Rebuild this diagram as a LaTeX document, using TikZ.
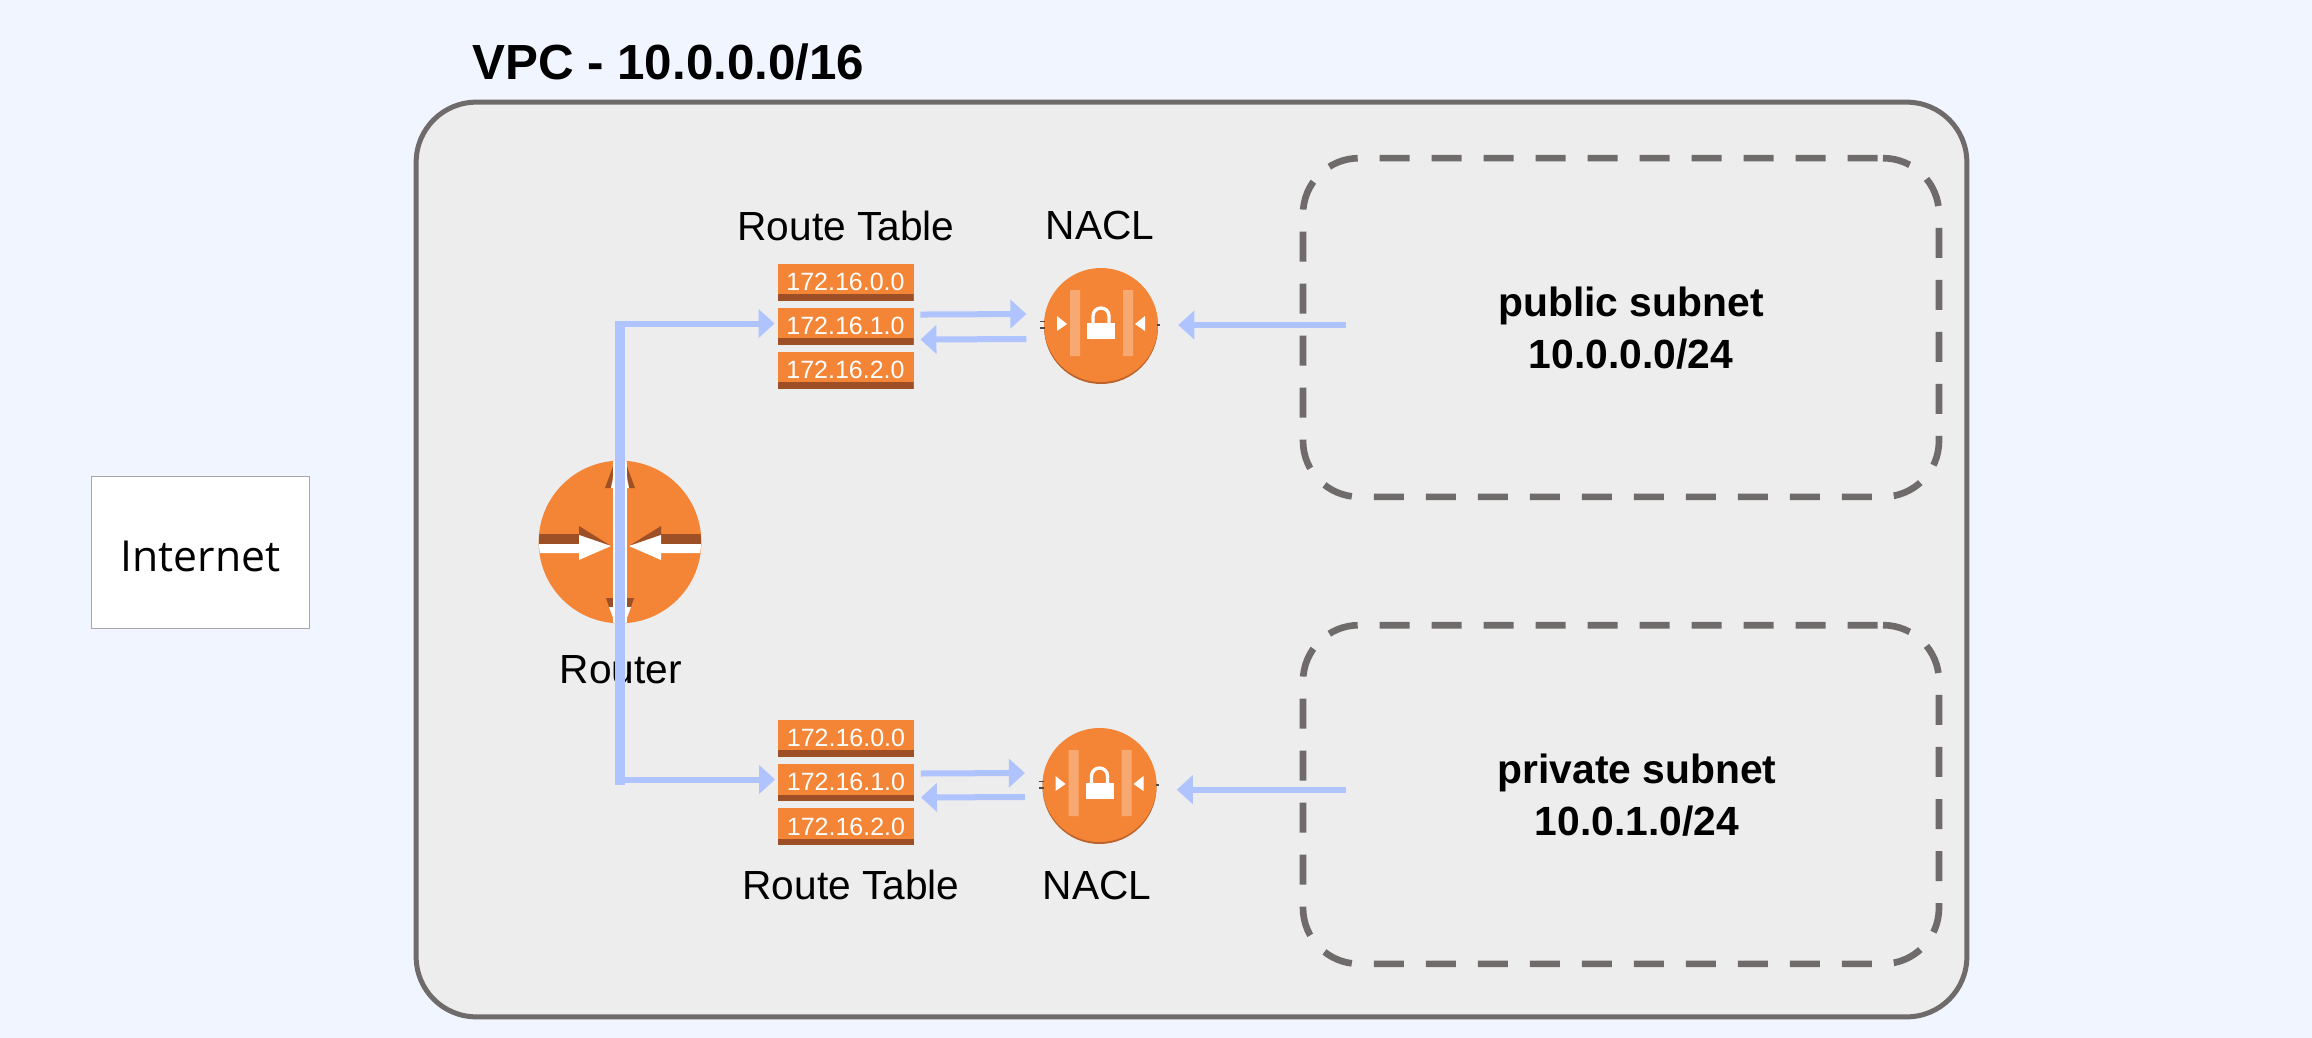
\documentclass[tikz,border=0pt]{standalone}
\usepackage{fontspec}
\setmainfont{Liberation Sans}
\newfontfamily\inetfont{Open Sans}
\usetikzlibrary{positioning, arrows.meta}
\definecolor{pagebg}{HTML}{F0F5FF}
\definecolor{vpcfill}{HTML}{EDEDED}
\definecolor{vpcline}{HTML}{6F6B6B}
\definecolor{awsorange}{HTML}{F58536}
\definecolor{awsbrown}{HTML}{9D5025}
\definecolor{flowblue}{HTML}{AFC4FF}
\tikzset{
    x=0.75pt, y=-0.75pt,
    every node/.style={font=\fontsize{30.5}{36}\selectfont, inner sep=0pt},
    node distance=5pt,
    subnet/.style={draw=vpcline, line width=5pt, dash pattern=on 22.5pt off 16.5pt, dash phase=35pt, rounded corners=42pt, minimum width=477pt, minimum height=254pt},
    boldlabel/.style={font=\fontsize{30.6}{38.5}\selectfont\bfseries, align=center},
    rtrow/.style={fill=awsorange, text=white, font=\fontsize{18.75}{20}\selectfont,
        minimum width=102pt, text height=20pt, text depth=7.75pt,
        path picture={\fill[awsbrown] (path picture bounding box.south west) rectangle ([yshift=5pt]path picture bounding box.south east);}},
    nacl/.style={circle, fill=awsorange, minimum size=85.5pt,
        preaction={fill=awsbrown!65!awsorange, transform canvas={yshift=-1.5pt}}},
    router/.style={circle, fill=awsorange, minimum size=122pt},
    flow/.style={draw=flowblue, line width=4.5pt, -{Triangle[length=12pt, width=21pt]}},
    trunk/.style={draw=flowblue, line width=7.5pt},
    naclicon/.pic={
        \fill[white, opacity=0.3] (-31,-35) rectangle (-21,31) (22,-35) rectangle (32,31);
        \fill[white] (-44,-9) -- (-34,-1) -- (-44,6) -- cycle (44,-9) -- (34,-1) -- (44,6) -- cycle;
        \fill[white] (-14,-2) rectangle (14,14);
        \draw[white, line width=2.5pt] (-8,0) -- (-8,-9) arc (180:360:8) -- (8,0);
        \draw[black!70, line width=1pt] (-61,-3.5) -- (-56,-3.5) (-61,3) -- (-56,3) (56,0) -- (59,0);
    },
    routericon/.pic={
        \clip (0,0) circle (81);
        \fill[awsbrown] (-82,-8) rectangle (-41,2) (82,-8) rectangle (41,2);
        \fill[white] (-82,2) rectangle (-41,11) (82,2) rectangle (41,11);
        \fill[awsbrown] (-41,-16) -- (-9,4) -- (-41,-7) -- cycle (41,-16) -- (9,4) -- (41,-7) -- cycle;
        \fill[white] (-41,-7) -- (-9,4) -- (-41,18) -- cycle (41,-7) -- (9,4) -- (41,18) -- cycle;
        \fill[awsbrown] (-15,-54) -- (-5,-81) -- (-9,-54) -- cycle (15,-54) -- (5,-81) -- (9,-54) -- cycle;
        \fill[awsbrown] (-14,56) -- (14,56) -- (11,65) -- (-11,65) -- cycle;
        \fill[white] (-9,-54) -- (-3,-81) -- (3,-81) -- (9,-54) -- cycle;
        \fill[white] (-11,65) -- (11,65) -- (5,81) -- (-5,81) -- cycle;
        \fill[white] (-7,-81) rectangle (7,81);
    },
}

\begin{document}
\begin{tikzpicture}
    \fill[pagebg] (0,0) rectangle (2312,1038);
    \useasboundingbox (0,0) rectangle (2312,1038);

    \node[draw=black!35, line width=0.8pt, fill=white, minimum width=164pt, minimum height=114pt, text height=28pt, text depth=0pt, font=\inetfont\fontsize{32}{36}\selectfont] (internet) at (200.5,552.5) {Internet};

    % vpc
    \node[draw=vpcline, fill=vpcfill, line width=3.75pt, rounded corners=45pt, minimum width=1163pt, minimum height=686pt] (vpc) at (1191.5,559.5) {};
    \node[font=\fontsize{37}{44}\selectfont\bfseries, anchor=west] (vpclabel) at (472,62) {VPC - 10.0.0.0/16};

    % subnets
    \node[subnet] (pub) at (1621,327.5) {};
    \node[subnet] (priv) at (1621,794.5) {};
    \node[boldlabel] (publabel) at (1631,328) {public subnet\\10.0.0.0/24};
    \node[boldlabel] (privlabel) at (1637,795) {private subnet\\10.0.1.0/24};

    % router
    \node[router] (rtr) at (620,542) {};
    \pic at (rtr) {routericon};
    \node (rtrlabel) at (621,670) {Router};

    % route tables
    \node[rtrow] (rt1a) at (845.5,282) {172.16.0.0};
    \node[rtrow, below=of rt1a] (rt1b) {172.16.1.0};
    \node[rtrow, below=of rt1b] (rt1c) {172.16.2.0};
    \node (rt1label) at (846,226) {Route Table};
    \node[rtrow] (rt2a) at (846,738.5) {172.16.0.0};
    \node[rtrow, below=of rt2a] (rt2b) {172.16.1.0};
    \node[rtrow, below=of rt2b] (rt2c) {172.16.2.0};
    \node (rt2label) at (851,885) {Route Table};

    % nacl
    \node[nacl] (nacl1) at (1101,325) {};
    \pic at (nacl1) {naclicon};
    \node (nacl1label) at (1100,226) {NACL};
    \node[nacl] (nacl2) at (1099.5,785) {};
    \pic at (nacl2) {naclicon};
    \node (nacl2label) at (1097,885) {NACL};

    % arrows
    \draw[trunk] ([yshift=4pt]rtr |- rt1b.west) -- ([yshift=-2pt]rtr |- rt2b.west);
    \draw[flow] (rtr) |- ([xshift=-2pt, yshift=2pt]rt1b.west);
    \draw[flow] (rtr) |- ([xshift=-2pt, yshift=2.4pt]rt2b.west);
    \draw[flow] ([xshift=5pt, yshift=8.75pt]rt1b.east) -- ([xshift=-13pt, yshift=8.25pt]nacl1.west);
    \draw[flow] ([xshift=-13pt, yshift=-10.5pt]nacl1.west) -- ([xshift=5pt, yshift=-10pt]rt1b.east);
    \draw[flow] ([xshift=5pt, yshift=6.9pt]rt2b.east) -- ([xshift=-13pt, yshift=9pt]nacl2.west);
    \draw[flow] ([xshift=-13pt, yshift=-9pt]nacl2.west) -- ([xshift=5pt, yshift=-11.1pt]rt2b.east);
    \draw[flow] ([xshift=35pt]pub.west |- nacl1) -- ([xshift=15pt]nacl1.east);
    \draw[flow] ([xshift=35pt, yshift=-3.5pt]priv.west |- nacl2) -- ([xshift=15pt, yshift=-3.5pt]nacl2.east);
\end{tikzpicture}
\end{document}
